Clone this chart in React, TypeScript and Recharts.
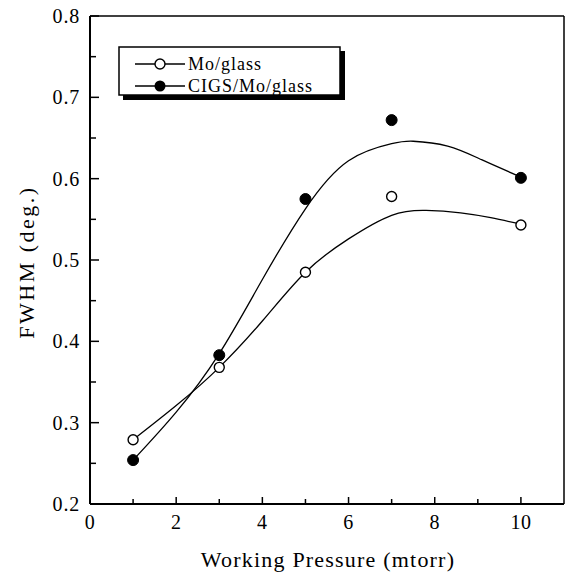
import React from 'react';
import { ComposedChart, Line, Scatter, XAxis, YAxis, ReferenceLine, Legend } from 'recharts';

// measured points
const pressures = [1, 3, 5, 7, 10];
const moGlass = [0.279, 0.368, 0.485, 0.578, 0.543];
const cigsMoGlass = [0.254, 0.383, 0.575, 0.672, 0.601];

// fitted curves
const moFitX = [1, 2, 3, 4, 5, 6, 7, 7.8, 8.6, 9.3, 10];
const moFitY = [0.279, 0.321, 0.368, 0.425, 0.485, 0.526, 0.555, 0.561, 0.558, 0.552, 0.544];
const cigsFitX = [1, 2, 3, 4, 5, 6, 7, 7.5, 8.3, 9.1, 10];
const cigsFitY = [0.254, 0.313, 0.385, 0.476, 0.563, 0.622, 0.643, 0.646, 0.64, 0.623, 0.602];

const seriesNames = ['Mo/glass', 'CIGS/Mo/glass'];
const xTicks = [0, 1, 2, 3, 4, 5, 6, 7, 8, 9, 10];
const yTicks = [0.2, 0.25, 0.3, 0.35, 0.4, 0.45, 0.5, 0.55, 0.6, 0.65, 0.7, 0.75, 0.8];
const xTitle = 'Working Pressure (mtorr)';
const yTitle = 'FWHM (deg.)';

const FONT = 'Liberation Serif, Times New Roman, serif';
const txt = (size: number, ls: number) => ({ fontFamily: FONT, fontSize: size, letterSpacing: ls });

const moScatter = pressures.map((x, i) => ({ x, y: moGlass[i] }));
const cigsScatter = pressures.map((x, i) => ({ x, y: cigsMoGlass[i] }));
const moFit = moFitX.map((x, i) => ({ x, y: moFitY[i] }));
const cigsFit = cigsFitX.map((x, i) => ({ x, y: cigsFitY[i] }));

const XTick = (props: any) => {
  const { x, y, payload } = props;
  const v = payload.value as number;
  const major = v % 2 === 0;
  return (
    <g>
      <line x1={x} x2={x} y1={y} y2={y - (major ? 7 : 5)} stroke="#000" strokeWidth={1.5} />
      {major && (
        <text x={x} y={y + 25} textAnchor="middle" style={txt(20, 0.5)} fill="#000">
          {v}
        </text>
      )}
    </g>
  );
};

const YTick = (props: any) => {
  const { x, y, payload } = props;
  const v = payload.value as number;
  const major = Math.round(v * 100) % 10 === 0;
  return (
    <g>
      <line x1={x} x2={x + (major ? 9 : 6)} y1={y} y2={y} stroke="#000" strokeWidth={1.5} />
      {major && (
        <text x={x - 10} y={y + 7} textAnchor="end" style={txt(20, 0.8)} fill="#000">
          {v.toFixed(1)}
        </text>
      )}
    </g>
  );
};

const OpenDot = (props: any) => (
  <circle cx={props.cx} cy={props.cy} r={5} fill="#fff" stroke="#000" strokeWidth={1.4} />
);
const FilledDot = (props: any) => (
  <circle cx={props.cx} cy={props.cy} r={5.5} fill="#000" stroke="#000" strokeWidth={1} />
);

const renderLegend = () => (
  <svg width={232} height={60} style={{ display: 'block' }}>
    <rect x={5} y={5} width={222} height={49} fill="#000" />
    <rect x={1} y={1} width={221} height={48} fill="#fff" stroke="#000" strokeWidth={1.5} />
    {seriesNames.map((name, i) => {
      const cy = 18 + i * 22;
      return (
        <g key={name}>
          <line x1={17} x2={67} y1={cy} y2={cy} stroke="#000" strokeWidth={1.4} />
          {i === 0 ? (
            <circle cx={42} cy={cy} r={5} fill="#fff" stroke="#000" strokeWidth={1.4} />
          ) : (
            <circle cx={42} cy={cy} r={5.5} fill="#000" />
          )}
          <text x={70} y={cy + 6} style={txt(18, 1)} fill="#000">
            {name}
          </text>
        </g>
      );
    })}
  </svg>
);

export default function App() {
  return (
    <div style={{ position: 'absolute', left: 0, top: 0 }}>
      <ComposedChart
        width={569}
        height={577}
        margin={{ top: 16, right: 5, bottom: 0, left: 0 }}
        style={{ background: '#fff' }}
      >
        <XAxis
          dataKey="x"
          type="number"
          domain={[0, 11]}
          ticks={xTicks}
          interval={0}
          height={73}
          tickSize={0}
          tickMargin={0}
          tick={<XTick />}
          axisLine={{ stroke: '#000', strokeWidth: 2 }}
          tickLine={false}
          allowDataOverflow
          label={() => (
            <text x={328} y={567} textAnchor="middle" style={txt(22, 1.2)} fill="#000">
              {xTitle}
            </text>
          )}
        />
        <YAxis
          dataKey="y"
          type="number"
          domain={[0.2, 0.8]}
          ticks={yTicks}
          interval={0}
          width={90}
          tickSize={0}
          tickMargin={0}
          tick={<YTick />}
          axisLine={{ stroke: '#000', strokeWidth: 2 }}
          tickLine={false}
          allowDataOverflow
          label={() => (
            <text
              x={26}
              y={262}
              transform="rotate(-90 26 262)"
              textAnchor="middle"
              dominantBaseline="central"
              style={txt(22, 2.5)}
              fill="#000"
            >
              {yTitle}
            </text>
          )}
        />
        <ReferenceLine y={0.8} stroke="#000" strokeWidth={1.5} ifOverflow="visible" />
        <ReferenceLine x={11} stroke="#000" strokeWidth={1.5} ifOverflow="visible" />
        <Line data={moFit} dataKey="y" type="natural" stroke="#000" strokeWidth={1.3} dot={false} activeDot={false} isAnimationActive={false} legendType="none" />
        <Line data={cigsFit} dataKey="y" type="natural" stroke="#000" strokeWidth={1.3} dot={false} activeDot={false} isAnimationActive={false} legendType="none" />
        <Scatter data={moScatter} dataKey="y" name={seriesNames[0]} shape={<OpenDot />} isAnimationActive={false} />
        <Scatter data={cigsScatter} dataKey="y" name={seriesNames[1]} shape={<FilledDot />} isAnimationActive={false} />
        <Legend
          layout="vertical"
          align="center"
          verticalAlign="middle"
          content={renderLegend}
          wrapperStyle={{ position: 'absolute', left: 118, top: 46, width: 232, height: 60 }}
        />
      </ComposedChart>
    </div>
  );
}
